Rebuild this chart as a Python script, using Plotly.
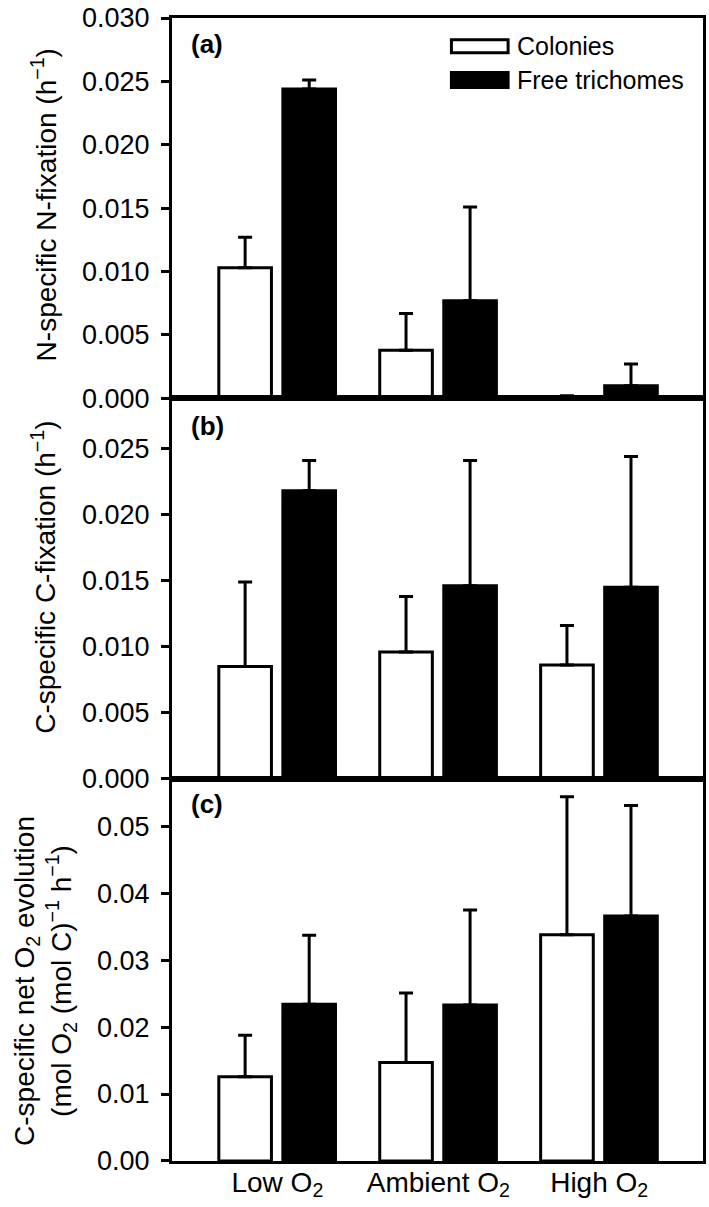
import plotly.graph_objects as go
from plotly.subplots import make_subplots

categories = ["Low O<sub>2</sub>", "Ambient O<sub>2</sub>", "High O<sub>2</sub>"]
series_names = ["Colonies", "Free trichomes"]

# Panel (a) N-specific N-fixation
n_fix_colonies = [0.0103, 0.0038, 0.00005]
n_fix_colonies_err = [0.0024, 0.0029, 0.00015]
n_fix_free = [0.0244, 0.0077, 0.0010]
n_fix_free_err = [0.0007, 0.0074, 0.0017]

# Panel (b) C-specific C-fixation
c_fix_colonies = [0.0085, 0.0096, 0.0086]
c_fix_colonies_err = [0.0064, 0.0042, 0.0030]
c_fix_free = [0.0218, 0.0146, 0.0145]
c_fix_free_err = [0.0023, 0.0095, 0.0099]

# Panel (c) C-specific net O2 evolution
o2_colonies = [0.0126, 0.0147, 0.0338]
o2_colonies_err = [0.0062, 0.0104, 0.0206]
o2_free = [0.0234, 0.0233, 0.0366]
o2_free_err = [0.0103, 0.0142, 0.0165]

panel_ranges = [[0, 0.0300001], [0, 0.0288], [0, 0.0571]]
panel_dticks = [0.005, 0.005, 0.01]
panel_formats = [".3f", ".3f", ".2f"]
panel_labels = ["(a)", "(b)", "(c)"]

FONT = "Liberation Sans, Arial, sans-serif"

# pixel geometry of the reference (plot area 172..706 x 10..1161)
PX_L, PX_W, PX_T, PX_B = 172, 534, 10, 1161
PX_H = PX_B - PX_T


def px_x(px):
    return (px - PX_L) / PX_W


def px_y(py):
    return (PX_B - py) / PX_H


fig = make_subplots(rows=3, cols=1, shared_xaxes=True, vertical_spacing=0)

panels = [
    (n_fix_colonies, n_fix_colonies_err, n_fix_free, n_fix_free_err),
    (c_fix_colonies, c_fix_colonies_err, c_fix_free, c_fix_free_err),
    (o2_colonies, o2_colonies_err, o2_free, o2_free_err),
]

BAR_W = 0.327
for r, (col, col_e, fr, fr_e) in enumerate(panels, start=1):
    fig.add_trace(go.Bar(
        x=categories, y=col, name=series_names[0], showlegend=False,
        width=BAR_W, offset=-0.364,
        marker=dict(color="white", line=dict(color="black", width=3)),
        error_y=dict(type="data", array=col_e, arrayminus=[0] * len(col_e),
                     symmetric=False, color="black", thickness=3, width=7),
    ), row=r, col=1)
    fig.add_trace(go.Bar(
        x=categories, y=fr, name=series_names[1], showlegend=False,
        width=BAR_W, offset=0.034,
        marker=dict(color="black", line=dict(color="black", width=3)),
        error_y=dict(type="data", array=fr_e, arrayminus=[0] * len(fr_e),
                     symmetric=False, color="black", thickness=3, width=7),
    ), row=r, col=1)

bounds = [10, 393, 776, 1161]
domains = [[px_y(bounds[i + 1]), px_y(bounds[i])] for i in range(3)]
domains[0][1] = 1.0
domains[2][0] = 0.0
for i in range(3):
    ax = "yaxis" if i == 0 else f"yaxis{i+1}"
    xa = "xaxis" if i == 0 else f"xaxis{i+1}"
    fig.layout[ax].update(
        domain=domains[i], range=panel_ranges[i], dtick=panel_dticks[i], tick0=0,
        tickformat=panel_formats[i], showline=True, mirror=True, linewidth=3,
        linecolor="black", ticks="outside", ticklen=8, tickwidth=3, tickcolor="black",
        showgrid=False, zeroline=False, ticklabelstandoff=6,
        ticklabeloverflow="allow",
        tickfont=dict(family=FONT, size=27, color="black"),
    )
    fig.layout[xa].update(
        range=[-0.655, 2.645], showline=True, mirror=True, linewidth=3,
        linecolor="black", ticks="", showgrid=False, zeroline=False,
        ticklabelstandoff=-6,
        tickfont=dict(family=FONT, size=28, color="black"),
    )
    fig.add_annotation(
        text=f"<b>{panel_labels[i]}</b>", xref="paper", yref="paper",
        x=px_x(189), y=px_y([36, 421, 802][i]),
        xanchor="left", yanchor="middle", showarrow=False,
        font=dict(family=FONT, size=26, color="black"),
    )

fig.update_xaxes(showticklabels=False, row=1, col=1)
fig.update_xaxes(showticklabels=False, row=2, col=1)
fig.update_xaxes(showticklabels=True, row=3, col=1)

titles = [
    ("N-specific N-fixation (h<sup>−1</sup>)", 43, 198),
    ("C-specific C-fixation (h<sup>−1</sup>)", 43, 573),
    ("C-specific net O<sub>2</sub> evolution<br>(mol O<sub>2</sub> (mol C)<sup>−1</sup> h<sup>−1</sup>)", 44, 980),
]
for txt, px, py in titles:
    fig.add_annotation(
        text=txt, xref="paper", yref="paper",
        x=px_x(px), y=px_y(py), textangle=-90,
        xanchor="center", yanchor="middle", showarrow=False,
        font=dict(family=FONT, size=28, color="black"),
    )

legend_items = [
    (series_names[0], "white", 32, 45, 38),
    (series_names[1], "black", 65, 80, 72),
]
for name, fill, y0, y1, yt in legend_items:
    fig.add_shape(
        type="rect", xref="paper", yref="paper",
        x0=px_x(453), x1=px_x(510), y0=px_y(y1), y1=px_y(y0),
        fillcolor=fill, line=dict(color="black", width=3),
    )
    fig.add_annotation(
        text=name, xref="paper", yref="paper",
        x=px_x(517), y=px_y(yt),
        xanchor="left", yanchor="middle", showarrow=False,
        font=dict(family=FONT, size=25, color="black"),
    )

fig.update_layout(
    width=709, height=1207,
    margin=dict(l=PX_L, r=709 - PX_L - PX_W, t=PX_T, b=1207 - PX_B),
    plot_bgcolor="white", paper_bgcolor="white",
    barmode="group", showlegend=False,
    font=dict(family=FONT, color="black"),
)

fig.write_html("out.html", config={"displayModeBar": False},
               post_script="document.body.style.margin='0';")
